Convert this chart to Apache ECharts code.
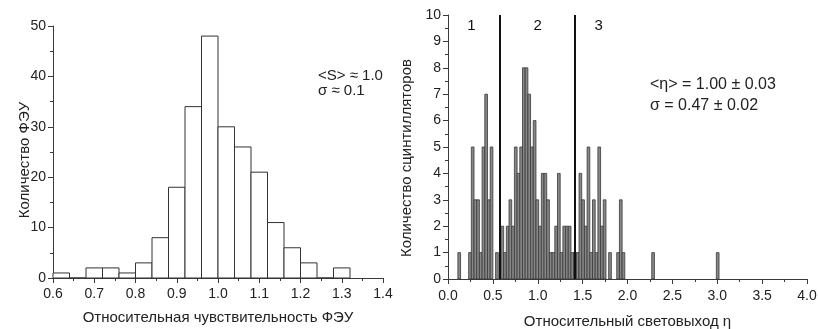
<!DOCTYPE html>
<html>
<head>
<meta charset="utf-8">
<script src="https://cdn.jsdelivr.net/npm/echarts@6/dist/echarts.min.js"></script>
<style>
  html, body { margin: 0; padding: 0; background: #fff; }
  #chart { width: 818px; height: 329px; }
</style>
</head>
<body>
<div id="chart"></div>
<script>
// PMT relative sensitivity histogram (bin width 0.04)
const pmtBinLeft = [0.60, 0.64, 0.68, 0.72, 0.76, 0.80, 0.84, 0.88, 0.92, 0.96, 1.00, 1.04, 1.08, 1.12, 1.16, 1.20, 1.24, 1.28];
const pmtCounts  = [1, 0, 2, 2, 1, 3, 8, 18, 34, 48, 30, 26, 21, 11, 6, 3, 0, 2];
const pmtBinWidth = 0.04;

// Scintillator relative light yield histogram: bins of 0.03 starting at 0.11
const lightFirstBin = 0.11;
const lightBinWidth = 0.03;
const lightCounts = [
  1, 0, 0, 0, 1, 5, 3, 3, 1, 5,   // 0.11 .. 0.41
  7, 3, 5, 0, 1, 0, 2, 1, 2, 3,   // 0.41 .. 0.71
  2, 5, 4, 5, 8, 8, 7, 5, 6, 3,   // 0.71 .. 1.01
  2, 4, 4, 3, 1, 1, 2, 4, 1, 2,   // 1.01 .. 1.31
  2, 2, 1, 1, 1, 4, 3, 2, 5, 1,   // 1.31 .. 1.61
  3, 1, 5, 2, 3, 0, 1, 0, 0, 1,   // 1.61 .. 1.91
  3, 1                            // 1.91 .. 1.97
];
// isolated high-yield samples (bin left edges)
const lightOutlierLeft = [2.27, 2.99];
const lightOutlierCounts = [1, 1];

// group boundaries and group labels
const regionBounds = [0.58, 1.415];
const regionLabels = ['1', '2', '3'];
const regionLabelX = [0.26, 1.0, 1.68];
const regionLabelY = 9.6;

const pmtTicks = { min: 0.6, max: 1.4, step: 0.1 };
const lightTicks = { min: 0, max: 4, step: 0.5 };

const pmtData = pmtBinLeft.map((x, i) => [x, x + pmtBinWidth, pmtCounts[i]]);
const lightData = lightCounts.map((c, i) => {
  const x = lightFirstBin + i * lightBinWidth;
  return [x, x + lightBinWidth, c];
}).filter(d => d[2] > 0);
lightOutlierLeft.forEach((x, i) => lightData.push([x, x + lightBinWidth, lightOutlierCounts[i]]));

const FONT = '"Liberation Sans", Arial, sans-serif';
const TXT = '#222';
const AXIS = '#3a3a3a';

function histItem(fill, stroke, lw) {
  return function (params, api) {
    const top = api.coord([api.value(0), api.value(2)]);
    const bot = api.coord([api.value(1), 0]);
    return {
      type: 'rect',
      shape: { x: top[0], y: top[1], width: bot[0] - top[0], height: bot[1] - top[1] },
      style: { fill: fill, stroke: stroke, lineWidth: lw }
    };
  };
}

function xAxisCfg(grid, t, name, gap, margin) {
  return {
    type: 'value', gridIndex: grid, min: t.min, max: t.max, interval: t.step,
    name: name, nameLocation: 'middle', nameGap: gap,
    nameTextStyle: { fontFamily: FONT, fontSize: 15, color: TXT },
    axisLine: { lineStyle: { color: AXIS, width: 1 } },
    axisTick: { show: true, length: 5, lineStyle: { color: AXIS } },
    minorTick: { show: true, splitNumber: 2, length: 3, lineStyle: { color: AXIS } },
    splitLine: { show: false },
    axisLabel: { fontFamily: FONT, fontSize: 14, color: TXT, margin: margin, formatter: v => v.toFixed(1) }
  };
}
function yAxisCfg(grid, max, step) {
  return {
    type: 'value', gridIndex: grid, min: 0, max: max, interval: step,
    axisLine: { show: true, lineStyle: { color: AXIS, width: 1 } },
    axisTick: { show: true, length: 5, lineStyle: { color: AXIS } },
    minorTick: { show: true, splitNumber: 2, length: 3, lineStyle: { color: AXIS } },
    splitLine: { show: false },
    axisLabel: { fontFamily: FONT, fontSize: 14, color: TXT, margin: 7 }
  };
}

function label(text, x, y, size, rotate) {
  return {
    type: 'text', x: x, y: y, rotation: rotate ? Math.PI / 2 : 0,
    style: { text: text, font: size + 'px ' + FONT, fill: TXT,
             align: rotate ? 'center' : 'left', verticalAlign: 'middle' }
  };
}

const chart = echarts.init(document.getElementById('chart'), null, { renderer: 'canvas' });
chart.setOption({
  animation: false,
  backgroundColor: '#fff',
  grid: [
    { left: 53, width: 330, top: 26, bottom: 51, outerBoundsMode: 'none', containLabel: false },
    { left: 448, right: 11, top: 15, bottom: 50, outerBoundsMode: 'none', containLabel: false }
  ],
  xAxis: [
    xAxisCfg(0, pmtTicks, 'Относительная чувствительность ФЭУ', 32, 9),
    xAxisCfg(1, lightTicks, 'Относительный световыход η', 35, 10)
  ],
  yAxis: [
    yAxisCfg(0, 50, 10),
    yAxisCfg(1, 10, 1)
  ],
  graphic: [
    label('Количество ФЭУ', 25, 160, 15, true),
    label('Количество сцинтилляторов', 407, 158, 15, true),
    label('<S> ≈ 1.0', 318, 76, 15, false),
    label('σ ≈ 0.1', 318, 91, 15, false),
    label('<η> = 1.00 ± 0.03', 650, 85, 16, false),
    label('σ = 0.47 ± 0.02', 650, 106, 16, false)
  ],
  series: [
    {
      type: 'custom', xAxisIndex: 0, yAxisIndex: 0,
      renderItem: histItem('#fff', '#333', 1),
      encode: { x: [0, 1], y: 2 },
      data: pmtData
    },
    {
      type: 'custom', xAxisIndex: 1, yAxisIndex: 1,
      renderItem: histItem('#878787', '#383838', 0.8),
      encode: { x: [0, 1], y: 2 },
      data: lightData,
      markLine: {
        silent: true, symbol: 'none', label: { show: false },
        lineStyle: { color: '#111', width: 2, type: 'solid' },
        data: regionBounds.map(x => [{ coord: [x, 0] }, { coord: [x, 10] }])
      }
    },
    {
      type: 'scatter', xAxisIndex: 1, yAxisIndex: 1, symbolSize: 0,
      itemStyle: { opacity: 1 },
      data: regionLabelX.map((x, i) => ({ value: [x, regionLabelY], name: regionLabels[i] })),
      label: { show: true, position: 'inside', formatter: p => p.name,
               fontFamily: FONT, fontSize: 15, color: '#111', opacity: 1 }
    }
  ]
});
</script>
</body>
</html>
